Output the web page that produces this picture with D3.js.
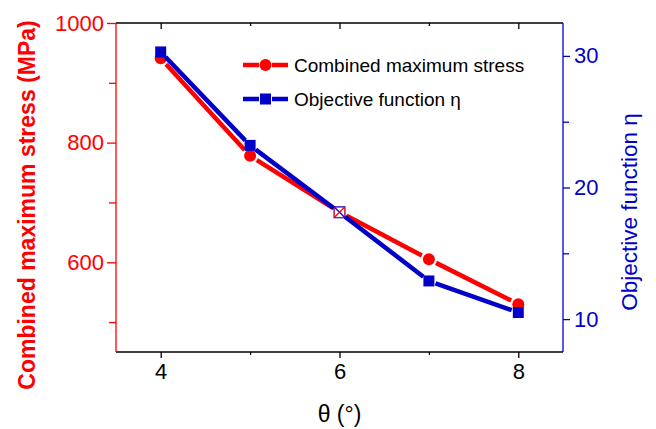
<!DOCTYPE html>
<html>
<head>
<meta charset="utf-8">
<script src="https://cdn.jsdelivr.net/npm/d3@7"></script>
<style>
  html, body { margin: 0; padding: 0; background: #fff; }
  svg { display: block; font-family: Arial, "Liberation Sans", sans-serif; }
</style>
</head>
<body>
<svg id="chart" width="656" height="429"></svg>
<script>
// Tilt angle θ (degrees)
const angles = [4, 5, 6, 7, 8];
// Combined maximum stress (MPa)
const stress = [941, 778, 684, 605, 530];
// Objective function η
const objective = [30.3, 23.2, 18.1, 12.9, 10.5];

const xTicks = [4, 6, 8];
const xMinor = [5, 7];
const leftTicks = [600, 800, 1000];
const leftMinor = [500, 700, 900];
const rightTicks = [10, 20, 30];
const rightMinor = [15, 25];

const RED = "#ff0000";
const BLUE = "#0000c8";
const FONT = "Arial, 'Liberation Sans', sans-serif";

const svg = d3.select("#chart");
const L = 116, R = 563, T = 23, B = 352;

const x = d3.scaleLinear().domain([3.5, 8.5]).range([L, R]);
const yL = d3.scaleLinear().domain([450, 1000]).range([B, T]);
const yR = d3.scaleLinear().domain([7.5, 32.5]).range([B, T]);

// frame: top line in black
svg.append("line").attr("x1", L).attr("x2", R).attr("y1", T).attr("y2", T)
  .attr("stroke", "#000").attr("stroke-width", 1.3);

// bottom axis
const gx = svg.append("g").attr("transform", `translate(0,${B})`)
  .call(d3.axisBottom(x).tickValues(xTicks).tickSize(6).tickPadding(5).tickFormat(d3.format("d")));
gx.select(".domain").attr("stroke", "#000").attr("stroke-width", 1.3).attr("d", `M${L},0H${R}`);
gx.selectAll(".tick line").attr("stroke", "#000").attr("stroke-width", 1.3);
gx.selectAll(".tick text").attr("fill", "#000").attr("font-size", 22).attr("font-family", FONT);
svg.append("g").attr("transform", `translate(0,${B})`)
  .call(d3.axisBottom(x).tickValues(xMinor).tickSize(3).tickFormat(""))
  .call(g => g.select(".domain").remove())
  .selectAll("line").attr("stroke", "#000").attr("stroke-width", 1.3);

// top axis ticks pointing inward
svg.append("g").attr("transform", `translate(0,${T})`)
  .call(d3.axisBottom(x).tickValues(xTicks).tickSize(6).tickFormat(""))
  .call(g => g.select(".domain").remove())
  .selectAll("line").attr("stroke", "#000").attr("stroke-width", 1.3);
svg.append("g").attr("transform", `translate(0,${T})`)
  .call(d3.axisBottom(x).tickValues(xMinor).tickSize(3).tickFormat(""))
  .call(g => g.select(".domain").remove())
  .selectAll("line").attr("stroke", "#000").attr("stroke-width", 1.3);

// left axis (red)
const gl = svg.append("g").attr("transform", `translate(${L},0)`)
  .call(d3.axisLeft(yL).tickValues(leftTicks).tickSize(9).tickPadding(3).tickFormat(d3.format("d")));
gl.select(".domain").attr("stroke", RED).attr("stroke-width", 1.3).attr("d", `M0,${T}V${B}`);
gl.selectAll(".tick line").attr("stroke", RED).attr("stroke-width", 1.3);
gl.selectAll(".tick text").attr("fill", RED).attr("font-size", 22).attr("font-family", FONT);
svg.append("g").attr("transform", `translate(${L},0)`)
  .call(d3.axisLeft(yL).tickValues(leftMinor).tickSize(7).tickFormat(""))
  .call(g => g.select(".domain").remove())
  .selectAll("line").attr("stroke", RED).attr("stroke-width", 1.3);

// right axis (blue)
const gr = svg.append("g").attr("transform", `translate(${R},0)`)
  .call(d3.axisRight(yR).tickValues(rightTicks).tickSize(7).tickPadding(4).tickFormat(d3.format("d")));
gr.select(".domain").attr("stroke", BLUE).attr("stroke-width", 1.3).attr("d", `M0,${T}V${B}`);
gr.selectAll(".tick line").attr("stroke", BLUE).attr("stroke-width", 1.3);
gr.selectAll(".tick text").attr("fill", BLUE).attr("font-size", 22).attr("font-family", FONT);
svg.append("g").attr("transform", `translate(${R},0)`)
  .call(d3.axisRight(yR).tickValues(rightMinor).tickSize(6).tickFormat(""))
  .call(g => g.select(".domain").remove())
  .selectAll("line").attr("stroke", BLUE).attr("stroke-width", 1.3);

// axis titles
svg.append("text")
  .attr("transform", `translate(35,205) rotate(-90)`)
  .attr("text-anchor", "middle").attr("fill", RED)
  .attr("font-size", 23).attr("font-weight", "bold")
  .text("Combined maximum stress (MPa)");
svg.append("text")
  .attr("transform", `translate(637,212) rotate(-90)`)
  .attr("text-anchor", "middle").attr("fill", BLUE)
  .attr("font-size", 22.5)
  .text("Objective function η");
svg.append("text")
  .attr("x", x(6)).attr("y", 422)
  .attr("text-anchor", "middle").attr("fill", "#000")
  .attr("font-size", 23)
  .text("θ (°)");

// line with small gaps around each marker
function gappedSegments(g, pts, color, gap) {
  for (let i = 0; i < pts.length - 1; i++) {
    const [x1, y1] = pts[i], [x2, y2] = pts[i + 1];
    const dx = x2 - x1, dy = y2 - y1, len = Math.hypot(dx, dy);
    const ux = dx / len, uy = dy / len;
    g.append("line")
      .attr("x1", x1 + ux * gap).attr("y1", y1 + uy * gap)
      .attr("x2", x2 - ux * gap).attr("y2", y2 - uy * gap)
      .attr("stroke", color).attr("stroke-width", 4.5);
  }
}

const redPts = angles.map((a, i) => [x(a), yL(stress[i])]);
const bluePts = angles.map((a, i) => [x(a), yR(objective[i])]);

const gRed = svg.append("g");
gappedSegments(gRed, redPts, RED, 8);
gRed.selectAll("circle").data(redPts.filter((p, i) => angles[i] !== 6)).join("circle")
  .attr("cx", d => d[0]).attr("cy", d => d[1]).attr("r", 6).attr("fill", RED);

const gBlue = svg.append("g");
gappedSegments(gBlue, bluePts, BLUE, 7);
gBlue.selectAll("rect").data(bluePts.filter((p, i) => angles[i] !== 6)).join("rect")
  .attr("x", d => d[0] - 5.5).attr("y", d => d[1] - 5.5)
  .attr("width", 11).attr("height", 11).attr("fill", BLUE);

// crossed open marker where the two series meet at θ = 6°
const iMid = angles.indexOf(6);
const mx = x(6), my = (yL(stress[iMid]) + yR(objective[iMid])) / 2;
const gMid = svg.append("g");
gMid.append("rect").attr("x", mx - 5.5).attr("y", my - 5.5).attr("width", 11).attr("height", 11)
  .attr("fill", "#fff").attr("stroke", BLUE).attr("stroke-width", 1.2).attr("opacity", 0.85);
gMid.append("rect").attr("x", mx - 5).attr("y", my - 5).attr("width", 10).attr("height", 10)
  .attr("fill", "none").attr("stroke", RED).attr("stroke-width", 0.8).attr("opacity", 0.7);
gMid.append("line").attr("x1", mx - 5).attr("y1", my - 5).attr("x2", mx + 5).attr("y2", my + 5)
  .attr("stroke", BLUE).attr("stroke-width", 1.2);
gMid.append("line").attr("x1", mx + 5).attr("y1", my - 5).attr("x2", mx - 5).attr("y2", my + 5)
  .attr("stroke", RED).attr("stroke-width", 1.2);

// legend
const legend = [
  { label: "Combined maximum stress", color: RED, shape: "circle", y: 65 },
  { label: "Objective function η", color: BLUE, shape: "square", y: 99 }
];
const lg = svg.append("g");
legend.forEach(d => {
  lg.append("line").attr("x1", 243).attr("x2", 259).attr("y1", d.y).attr("y2", d.y)
    .attr("stroke", d.color).attr("stroke-width", 4.5);
  lg.append("line").attr("x1", 272).attr("x2", 288).attr("y1", d.y).attr("y2", d.y)
    .attr("stroke", d.color).attr("stroke-width", 4.5);
  if (d.shape === "circle") {
    lg.append("circle").attr("cx", 265.5).attr("cy", d.y).attr("r", 6).attr("fill", d.color);
  } else {
    lg.append("rect").attr("x", 260).attr("y", d.y - 5.5).attr("width", 11).attr("height", 11).attr("fill", d.color);
  }
  lg.append("text").attr("x", 294).attr("y", d.y + 7)
    .attr("font-size", 19).attr("fill", "#000").text(d.label);
});
</script>
</body>
</html>
